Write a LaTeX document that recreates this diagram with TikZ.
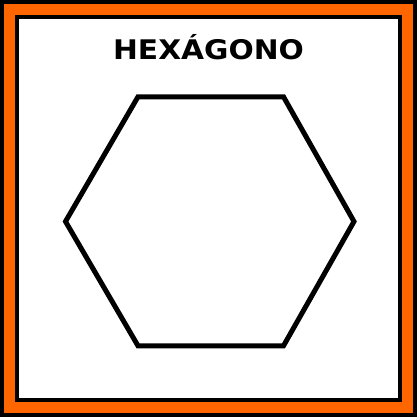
\documentclass[tikz,border=0pt]{standalone}
\usepackage{fontspec}
\setmainfont{DejaVu Sans}
\definecolor{frameorange}{RGB}{255,102,0}
\begin{document}
\begin{tikzpicture}[x=1pt,y=-1pt,
  hexline/.style={line width=5pt,line join=miter},
  titletext/.style={font=\fontsize{27}{30}\selectfont\bfseries,inner sep=0pt}]
\useasboundingbox (0,0) rectangle (417,417);
\fill[black] (0,0) rectangle (417,417);
\fill[frameorange] (4,4) rectangle (413,413);
\fill[black] (15,15) rectangle (402,402);
\fill[white] (19,19) rectangle (398,398);
\node[titletext,anchor=base] (title) at (208.5,59.5) {\scalebox{1.1}[1]{HEXÁGONO}};
\coordinate (a) at (138,96.8);
\coordinate (b) at (283.5,96.8);
\coordinate (c) at (354,221.5);
\coordinate (d) at (283.5,345.8);
\coordinate (e) at (138,345.8);
\coordinate (f) at (65.5,221.5);
\draw[hexline] (a) -- (b) -- (c) -- (d) -- (e) -- (f) -- cycle;
\end{tikzpicture}
\end{document}
